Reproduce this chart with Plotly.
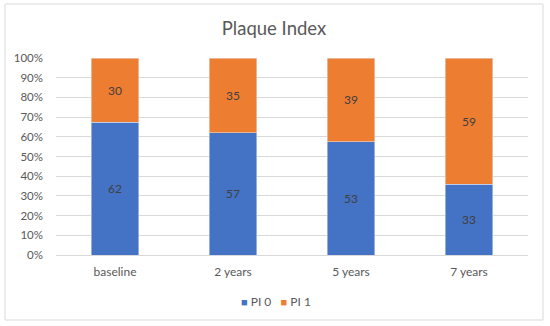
import plotly.graph_objects as go

categories = ["baseline", "2 years", "5 years", "7 years"]
series_names = ["PI 0", "PI 1"]
series_colors = ["#4472C4", "#ED7D31"]
pi0 = [62, 57, 53, 33]
pi1 = [30, 35, 39, 59]
tick_vals = [0, 10, 20, 30, 40, 50, 60, 70, 80, 90, 100]
tick_text = [f"{v}%" for v in tick_vals]

FONT = "Lato"
GREY = "#595959"

W, H = 550, 326
L, T = 56, 58
R = W - 528
B = H - 255
pw, ph = W - L - R, H - T - B

def px(x):
    return (x - L) / pw

def py(y):
    return (H - B - y) / ph

fig = go.Figure()
for name, color, vals in zip(series_names, series_colors, [pi0, pi1]):
    fig.add_trace(go.Bar(x=categories, y=vals, name=name, marker_color=color,
                         text=vals, textposition="inside", insidetextanchor="middle",
                         textfont=dict(color="#404040", size=12, family=FONT),
                         showlegend=False))

legend_text = "&nbsp;&nbsp;&nbsp;".join(
    f"<span style='color:{c};font-size:11px'>■</span> {n}"
    for n, c in zip(series_names, series_colors))

fig.update_layout(
    width=W, height=H,
    margin=dict(l=L, r=R, t=T, b=B, autoexpand=False),
    barmode="stack", barnorm="percent", bargap=0.6,
    paper_bgcolor="white", plot_bgcolor="white",
    font=dict(family=FONT, color=GREY, size=12),
    title=dict(text="Plaque Index", x=274 / W, xref="container", xanchor="center",
               y=1 - 29 / H, yref="container", yanchor="middle",
               font=dict(size=18.5, color=GREY, family=FONT)),
    xaxis=dict(showgrid=False, showline=True, linecolor="#D9D9D9", linewidth=1,
               ticks="", tickfont=dict(size=12, color=GREY), tickangle=0,
               ticklabelstandoff=6, automargin=False),
    yaxis=dict(range=[0, 100], tickvals=tick_vals, ticktext=tick_text,
               showgrid=True, gridcolor="#D9D9D9", gridwidth=1, zeroline=False,
               showline=False, ticks="", tickfont=dict(size=11.5, color=GREY),
               ticklabelstandoff=12, automargin=False),
    annotations=[dict(text=legend_text, xref="paper", yref="paper",
                      x=px(276), y=py(301), xanchor="center", yanchor="middle",
                      showarrow=False, font=dict(size=12, color=GREY, family=FONT))],
    shapes=[dict(type="rect", xref="paper", yref="paper",
                 x0=px(5), x1=px(543), y0=py(4), y1=py(320),
                 line=dict(color="#D9D9D9", width=1), fillcolor="rgba(0,0,0,0)",
                 layer="below")],
)
fig.write_html("out.html", config={"displayModeBar": False},
               post_script="document.body.style.margin='0';document.body.style.overflow='hidden';")
